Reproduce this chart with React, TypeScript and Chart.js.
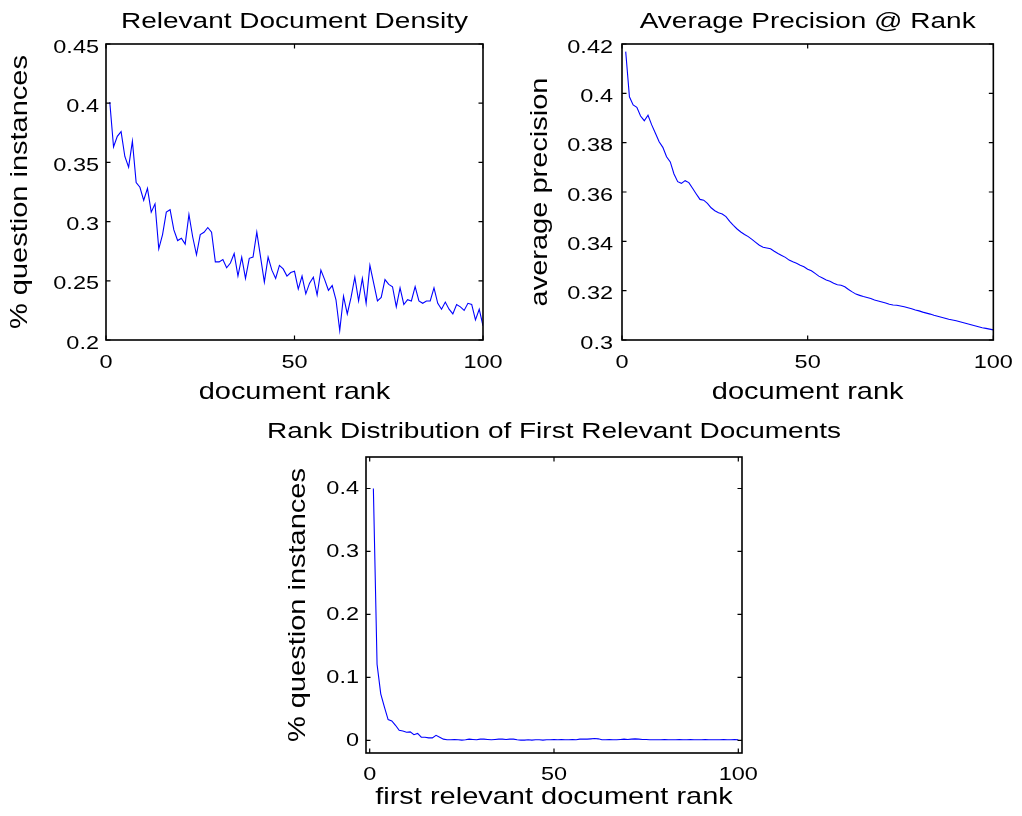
import React, { useEffect, useRef } from 'react';
import { Chart, registerables } from 'chart.js';

Chart.register(...registerables);

// ---------- data ----------
const RANKS = Array.from({ length: 100 }, (_, i) => i + 1);

const DENSITY = [
  0.401, 0.363, 0.372, 0.376, 0.355, 0.346, 0.368, 0.333, 0.329, 0.318,
  0.328, 0.308, 0.315, 0.277, 0.289, 0.308, 0.310, 0.293, 0.284, 0.286,
  0.281, 0.306, 0.287, 0.272, 0.289, 0.291, 0.295, 0.291, 0.266, 0.266,
  0.268, 0.261, 0.265, 0.273, 0.254, 0.270, 0.252, 0.269, 0.270, 0.291,
  0.270, 0.249, 0.270, 0.259, 0.252, 0.263, 0.260, 0.254, 0.257, 0.258,
  0.243, 0.254, 0.239, 0.248, 0.253, 0.238, 0.259, 0.251, 0.242, 0.246,
  0.234, 0.208, 0.237, 0.222, 0.236, 0.253, 0.233, 0.252, 0.231, 0.263,
  0.248, 0.233, 0.236, 0.251, 0.247, 0.245, 0.228, 0.244, 0.230, 0.234,
  0.233, 0.245, 0.233, 0.231, 0.233, 0.233, 0.244, 0.231, 0.226, 0.232,
  0.226, 0.222, 0.230, 0.228, 0.225, 0.231, 0.230, 0.217, 0.226, 0.212,
];

const AVG_PRECISION = [
  0.4169, 0.3986, 0.3953, 0.3943, 0.3908, 0.3889, 0.3911, 0.3872, 0.3838, 0.3804,
  0.3781, 0.3743, 0.3722, 0.3673, 0.3642, 0.3635, 0.3646, 0.3638, 0.3615, 0.3592,
  0.3570, 0.3567, 0.3554, 0.3536, 0.3524, 0.3516, 0.3511, 0.3500, 0.3481, 0.3465,
  0.3450, 0.3438, 0.3428, 0.3419, 0.3408, 0.3396, 0.3384, 0.3376, 0.3373, 0.3370,
  0.3360, 0.3351, 0.3343, 0.3335, 0.3324, 0.3317, 0.3311, 0.3303, 0.3297, 0.3287,
  0.3281, 0.3270, 0.3259, 0.3251, 0.3243, 0.3238, 0.3230, 0.3224, 0.3222, 0.3216,
  0.3205, 0.3195, 0.3186, 0.3181, 0.3176, 0.3172, 0.3168, 0.3162, 0.3158, 0.3154,
  0.3150, 0.3145, 0.3142, 0.3141, 0.3138, 0.3135, 0.3131, 0.3127, 0.3122, 0.3118,
  0.3113, 0.3109, 0.3105, 0.3100, 0.3096, 0.3092, 0.3088, 0.3084, 0.3081, 0.3078,
  0.3074, 0.3070, 0.3066, 0.3062, 0.3058, 0.3054, 0.3050, 0.3047, 0.3044, 0.3041,
];

const FIRST_RELEVANT = [
  0.400, 0.121, 0.074, 0.053, 0.033, 0.031, 0.024, 0.016, 0.015, 0.013,
  0.0135, 0.009, 0.011, 0.005, 0.005, 0.004, 0.004, 0.008, 0.005, 0.002,
  0.001, 0.001, 0.0015, 0.001, 0.0005, 0.001, 0.002, 0.0015, 0.001, 0.002,
  0.002, 0.0015, 0.001, 0.0015, 0.002, 0.002, 0.0015, 0.002, 0.002, 0.001,
  0.0005, 0.0005, 0.001, 0.0005, 0.001, 0.001, 0.0005, 0.001, 0.001, 0.0015,
  0.001, 0.0015, 0.001, 0.001, 0.0015, 0.001, 0.002, 0.002, 0.002, 0.0025,
  0.003, 0.0025, 0.001, 0.001, 0.0015, 0.001, 0.001, 0.0015, 0.002, 0.0015,
  0.002, 0.0025, 0.002, 0.0015, 0.0015, 0.001, 0.001, 0.001, 0.001, 0.0015,
  0.001, 0.001, 0.001, 0.0015, 0.001, 0.001, 0.0015, 0.001, 0.001, 0.001,
  0.0015, 0.001, 0.001, 0.001, 0.001, 0.0015, 0.001, 0.001, 0.0015, 0.001,
];

const X_TICKS = [0, 50, 100];
const DENSITY_TICKS = [0.2, 0.25, 0.3, 0.35, 0.4, 0.45];
const PRECISION_TICKS = [0.3, 0.32, 0.34, 0.36, 0.38, 0.4, 0.42];
const FIRST_TICKS = [0, 0.1, 0.2, 0.3, 0.4];

// ---------- styling ----------
const FONT = "'Liberation Sans', Arial, Helvetica, sans-serif";
const TITLE_SIZE = 22.4;
const LABEL_SIZE = 23.2;
const TICK_SIZE = 18.8;
const TEXT_STRETCH = 1.25; // the reference glyphs are wide
const LINE_COLOR = '#0000ff';

const fmt = (v: any) => String(Number(Number(v).toFixed(3)));

const boxPlugin = {
  id: 'matlabBox',
  beforeDraw(chart: any) {
    const ctx = chart.ctx;
    if (!ctx.__wideText) {
      const orig = ctx.fillText;
      ctx.fillText = function (text: string, x: number, y: number) {
        this.save();
        this.translate(x, y);
        this.scale(TEXT_STRETCH, 1);
        orig.call(this, text, 0, 0);
        this.restore();
      };
      ctx.__wideText = true;
    }
  },
  afterDraw(chart: any) {
    const { ctx, chartArea: a, scales } = chart;
    ctx.save();
    ctx.strokeStyle = '#000';
    ctx.lineWidth = 1.6;
    ctx.strokeRect(a.left, a.top, a.right - a.left, a.bottom - a.top);
    ctx.lineWidth = 1.2;
    const L = 4.5;
    ctx.beginPath();
    for (const t of scales.x.ticks) {
      const px = scales.x.getPixelForValue(t.value);
      ctx.moveTo(px, a.bottom);
      ctx.lineTo(px, a.bottom - L);
      ctx.moveTo(px, a.top);
      ctx.lineTo(px, a.top + L);
    }
    for (const t of scales.y.ticks) {
      const py = scales.y.getPixelForValue(t.value);
      ctx.moveTo(a.left, py);
      ctx.lineTo(a.left + L, py);
      ctx.moveTo(a.right, py);
      ctx.lineTo(a.right - L, py);
    }
    ctx.stroke();
    ctx.restore();
  },
};

interface Spec {
  left: number; top: number; w: number; h: number;
  values: number[];
  title: string; xLabel: string; yLabel: string;
  xMin: number; xMax: number; yMin: number; yMax: number;
  yTicks: number[];
  padRight: number;
  yAxisW: number; xAxisH: number;
  titleTop: number; titleBottom: number;
  yTitlePad: number; yTickPad: number; yLabelShift: number;
  xTickPad: number; xTitlePad: number;
}

function makeConfig(s: Spec): any {
  return {
    type: 'line',
    data: {
      datasets: [
        {
          data: RANKS.map((r, i) => ({ x: r, y: s.values[i] })),
          borderColor: LINE_COLOR,
          borderWidth: 1.1,
          pointRadius: 0,
          fill: false,
          tension: 0,
        },
      ],
    },
    options: {
      animation: false,
      responsive: false,
      devicePixelRatio: 1,
      events: [],
      layout: { padding: { left: 0, top: 0, right: s.padRight, bottom: 0 } },
      plugins: {
        legend: { display: false },
        tooltip: { enabled: false },
        title: {
          display: true,
          text: s.title,
          fullSize: false,
          color: '#000',
          font: { family: FONT, size: TITLE_SIZE, weight: 'normal', lineHeight: 1 },
          padding: { top: s.titleTop, bottom: s.titleBottom },
        },
      },
      scales: {
        x: {
          type: 'linear',
          min: s.xMin,
          max: s.xMax,
          afterBuildTicks: (sc: any) => {
            sc.ticks = X_TICKS.map((v) => ({ value: v }));
          },
          afterFit: (sc: any) => {
            sc.height = s.xAxisH;
          },
          grid: { display: false, drawTicks: false },
          border: { display: false },
          ticks: {
            color: '#000',
            font: { family: FONT, size: TICK_SIZE, lineHeight: 1 },
            padding: s.xTickPad,
            maxRotation: 0,
            autoSkip: false,
            callback: fmt,
          },
          title: {
            display: true,
            text: s.xLabel,
            color: '#000',
            font: { family: FONT, size: LABEL_SIZE, lineHeight: 1 },
            padding: { top: 0, bottom: s.xTitlePad },
          },
        },
        y: {
          type: 'linear',
          min: s.yMin,
          max: s.yMax,
          afterBuildTicks: (sc: any) => {
            sc.ticks = s.yTicks.map((v) => ({ value: v }));
          },
          afterFit: (sc: any) => {
            sc.width = s.yAxisW;
          },
          grid: { display: false, drawTicks: false },
          border: { display: false },
          ticks: {
            color: '#000',
            font: { family: FONT, size: TICK_SIZE, lineHeight: 1 },
            padding: s.yTickPad,
            labelOffset: s.yLabelShift,
            autoSkip: false,
            callback: fmt,
          },
          title: {
            display: true,
            text: s.yLabel,
            color: '#000',
            font: { family: FONT, size: LABEL_SIZE, lineHeight: 1 },
            padding: { top: s.yTitlePad, bottom: 0 },
          },
        },
      },
    },
    plugins: [boxPlugin],
  };
}

const SPECS: Spec[] = [
  {
    left: 0, top: 0, w: 520, h: 410,
    values: DENSITY,
    title: 'Relevant Document Density',
    xLabel: 'document rank',
    yLabel: '% question instances',
    xMin: 0, xMax: 100, yMin: 0.2, yMax: 0.45,
    yTicks: DENSITY_TICKS,
    padRight: 37,
    yAxisW: 106, xAxisH: 70,
    titleTop: 10.3, titleBottom: 11.3,
    yTitlePad: 9.4, yTickPad: 7, yLabelShift: 3.5,
    xTickPad: 13, xTitlePad: 5.4,
  },
  {
    left: 510, top: 0, w: 512, h: 410,
    values: AVG_PRECISION,
    title: 'Average Precision @ Rank',
    xLabel: 'document rank',
    yLabel: 'average precision',
    xMin: 0, xMax: 100, yMin: 0.3, yMax: 0.42,
    yTicks: PRECISION_TICKS,
    padRight: 24,
    yAxisW: 112, xAxisH: 70,
    titleTop: 10.3, titleBottom: 11.3,
    yTitlePad: 19.4, yTickPad: 9, yLabelShift: 3.5,
    xTickPad: 13, xTitlePad: 5.4,
  },
  {
    left: 200, top: 410, w: 680, h: 406,
    values: FIRST_RELEVANT,
    title: 'Rank Distribution of First Relevant Documents',
    xLabel: 'first relevant document rank',
    yLabel: '% question instances',
    xMin: -1, xMax: 101, yMin: -0.02, yMax: 0.45,
    yTicks: FIRST_TICKS,
    padRight: 138,
    yAxisW: 166, xAxisH: 63,
    titleTop: 10.3, titleBottom: 14.3,
    yTitlePad: 87.4, yTickPad: 7, yLabelShift: 0.5,
    xTickPad: 12.1, xTitlePad: 6.4,
  },
];

function Plot({ spec }: { spec: Spec }) {
  const ref = useRef<HTMLCanvasElement>(null);
  useEffect(() => {
    const chart = new Chart(ref.current as HTMLCanvasElement, makeConfig(spec));
    return () => chart.destroy();
  }, [spec]);
  return (
    <canvas
      ref={ref}
      width={spec.w}
      height={spec.h}
      style={{ position: 'absolute', left: spec.left, top: spec.top, width: spec.w, height: spec.h }}
    />
  );
}

export default function App() {
  return (
    <div style={{ position: 'absolute', left: 0, top: 0, width: 1022, height: 816, background: '#fff', overflow: 'hidden' }}>
      {SPECS.map((s, i) => (
        <Plot key={i} spec={s} />
      ))}
    </div>
  );
}
